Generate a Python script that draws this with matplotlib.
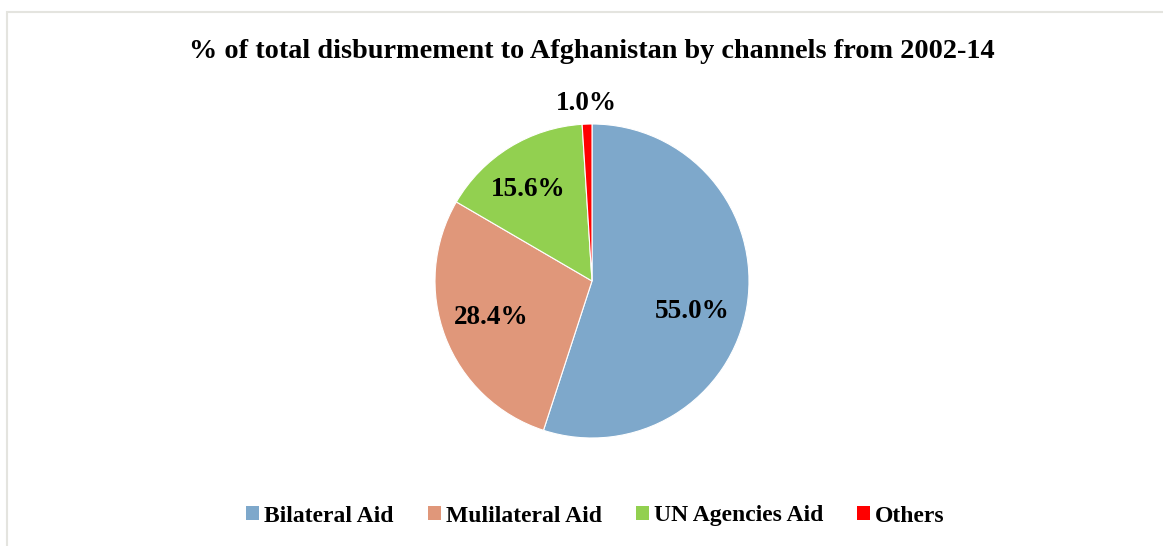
import numpy as np
import matplotlib
matplotlib.use("Agg")
import matplotlib.pyplot as plt
from matplotlib.patches import Rectangle, Patch

# data
channels = ["Bilateral Aid", "Mulilateral Aid", "UN Agencies Aid", "Others"]
shares = [55.0, 28.4, 15.6, 1.0]
colors = ["#7EA8CB", "#E0977A", "#92D050", "#FF0000"]

plt.rcParams['font.family'] = ['Liberation Serif', 'DejaVu Serif']

W, H = 1163, 546
fig = plt.figure(figsize=(W / 100, H / 100), dpi=100)

# light frame like the source
fig.patches.append(Rectangle((6.5 / W, -0.1), 1.2, 1 - 11.5 / H + 0.1,
                             transform=fig.transFigure, fill=False,
                             edgecolor="#E4E4DF", linewidth=1.5))

# pie axes
cx, cy, r = 592, 281, 157
ax = fig.add_axes([(cx - r) / W, (H - cy - r) / H, 2 * r / W, 2 * r / H])
wedges, _ = ax.pie(shares, colors=colors, startangle=90, counterclock=False,
                   wedgeprops=dict(edgecolor="white", linewidth=0.8))
ax.set_xlim(-1, 1)
ax.set_ylim(-1, 1)

# percentage labels (best-fit placement: radius, angle shift in degrees)
dists = [0.67, 0.68, 0.71, 1.13]
shifts = [-8, -1, 3, 0]
for w, val, d, s in zip(wedges, shares, dists, shifts):
    ang = np.deg2rad((w.theta1 + w.theta2) / 2 + s)
    ax.text(d * np.cos(ang), d * np.sin(ang), f"{val:.1f}%", ha="center",
            va="center", fontsize=19.5, fontweight="bold", clip_on=False)

fig.text(0.509, 1 - 52 / H, "% of total disburmement to Afghanistan by channels from 2002-14",
         ha="center", va="center", fontsize=20.3, fontweight="bold")

handles = [Patch(facecolor=c, edgecolor="none") for c in colors]
fig.legend(handles, channels, loc="center", bbox_to_anchor=(0.512, 1 - 516 / H),
           ncol=4, frameon=False, handlelength=0.55, handleheight=0.55,
           handletextpad=0.2, columnspacing=1.45,
           prop=dict(size=17, weight="bold"))

fig.savefig("out.png", dpi=100)
